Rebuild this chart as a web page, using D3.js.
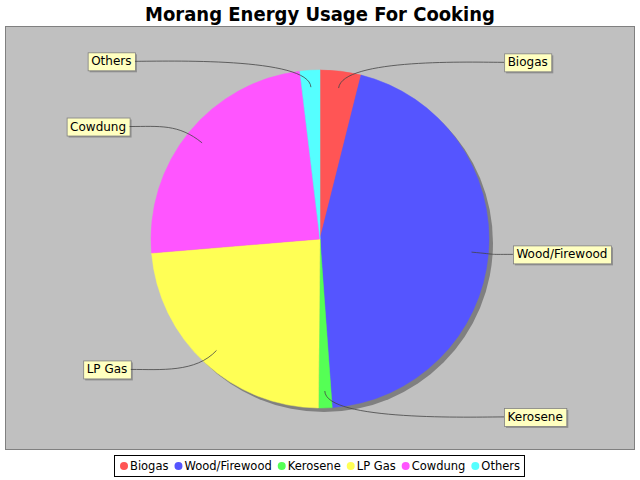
<!DOCTYPE html>
<html>
<head>
<meta charset="utf-8">
<script src="https://cdn.jsdelivr.net/npm/d3@7"></script>
<style>
  body { margin: 0; background: #fff; }
  svg { display: block; }
</style>
</head>
<body>
<div id="chart"></div>
<script>
'use strict';

// Energy sources and their share (percent)
let categories = ["Biogas", "Wood/Firewood", "Kerosene", "LP Gas", "Cowdung", "Others"];
let shares = [3.9, 44.9, 1.3, 23.5, 24.4, 1.9];
let sliceColors = ["#ff5555", "#5555ff", "#55ff55", "#ffff55", "#ff55ff", "#55ffff"];

const width = 640;
const height = 480;
const font = "'DejaVu Sans', sans-serif";

const svg = d3.select("#chart").append("svg")
    .attr("width", width)
    .attr("height", height)
    .style("background", "#fff");

// Title
svg.append("text")
    .attr("x", width / 2)
    .attr("y", 21)
    .attr("text-anchor", "middle")
    .style("font-family", "'DejaVu Sans Condensed', 'DejaVu Sans', sans-serif")
    .style("font-weight", "bold")
    .style("font-size", "20px")
    .text("Morang Energy Usage For Cooking");

// Plot area
svg.append("rect")
    .attr("x", 5.5).attr("y", 26.5)
    .attr("width", 629).attr("height", 423)
    .attr("fill", "#c0c0c0")
    .attr("stroke", "#808080");

const cx = 320, cy = 239, r = 169;

let data = categories.map((c, i) => ({name: c, value: shares[i], color: sliceColors[i]}));

let pie = d3.pie().sort(null).value(d => d.value);
let arcs = pie(data);
let arc = d3.arc().innerRadius(0).outerRadius(r);

// shadow
svg.append("circle")
    .attr("cx", cx + 4).attr("cy", cy + 4).attr("r", r)
    .attr("fill", "#808080");

const g = svg.append("g").attr("transform", `translate(${cx},${cy})`);
g.selectAll("path.slice")
  .data(arcs)
  .enter()
  .append("path")
    .attr("class", "slice")
    .attr("d", arc)
    .attr("fill", d => d.data.color)
    .attr("stroke", d => d.data.color)
    .attr("stroke-width", 0.5);

// Labels with curved links
const labelG = svg.append("g");
arcs.forEach(function (d) {
  let mid = (d.startAngle + d.endAngle) / 2;
  let sx = Math.sin(mid), sy = -Math.cos(mid);
  let right = sx >= 0;
  let ly = cy + sy * 178;
  let off = 194 - 9 * sy * sy;
  let edgeX = right ? cx + off - 1 : cx - off;
  let start = [cx + sx * r * 0.9, cy + sy * r * 0.9];
  let elbow = [cx + sx * r * 1.08, cy + sy * r * 1.08];
  let c2 = [right ? edgeX - 30 : edgeX + 30, ly];

  labelG.append("path")
      .attr("d", `M${start[0]},${start[1]}C${elbow[0]},${elbow[1]} ${c2[0]},${c2[1]} ${edgeX},${ly}`)
      .attr("fill", "none")
      .attr("stroke", "#444")
      .attr("stroke-width", 0.8);

  let t = labelG.append("text")
      .attr("y", ly + 4)
      .style("font-family", font)
      .style("font-size", "12px")
      .text(d.data.name);
  let tw = t.node().getComputedTextLength();
  let bw = tw + 7, bh = 18;
  let bx = right ? edgeX : edgeX - bw;
  let by = ly - bh / 2;
  t.attr("x", bx + 3.5);

  labelG.insert("rect", "text")
      .attr("x", bx + 2).attr("y", by + 2)
      .attr("width", bw).attr("height", bh)
      .attr("fill", "#909090");
  labelG.insert("rect", "text")
      .attr("x", bx + 0.5).attr("y", by + 0.5)
      .attr("width", bw).attr("height", bh)
      .attr("fill", "#ffffc0")
      .attr("stroke", "#808080")
      .attr("stroke-width", 0.8);
});

// Legend
const legend = svg.append("g");
let lx = 0;
data.forEach(function (d) {
  let item = legend.append("g");
  item.append("circle")
      .attr("cx", lx + 4).attr("cy", 466).attr("r", 4)
      .attr("fill", d.color);
  let t = item.append("text")
      .attr("x", lx + 10).attr("y", 470)
      .style("font-family", font)
      .style("font-size", "11.5px")
      .text(d.name);
  lx += 10 + t.node().getComputedTextLength() + 6;
});
let legW = lx - 6;
let legX = Math.round(width / 2 - legW / 2);
legend.attr("transform", `translate(${legX},0)`);
svg.insert("rect", "g")
    .attr("x", legX - 5.5).attr("y", 455.5)
    .attr("width", legW + 10).attr("height", 21)
    .attr("fill", "#fff")
    .attr("stroke", "#000");
</script>
</body>
</html>
